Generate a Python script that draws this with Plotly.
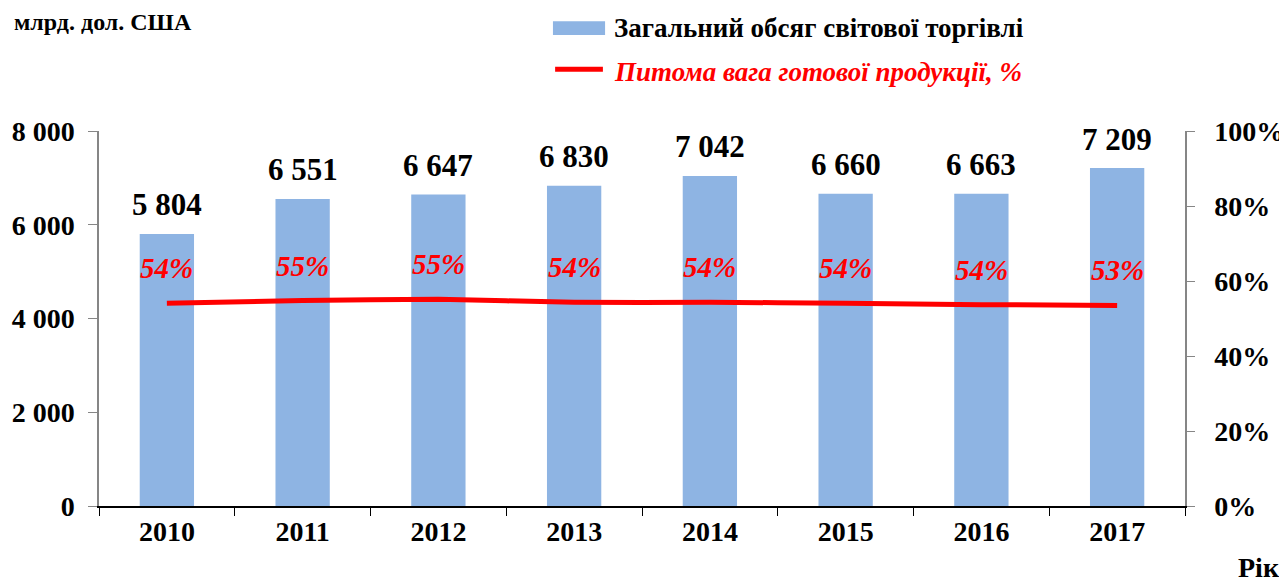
import plotly.graph_objects as go

years = ["2010", "2011", "2012", "2013", "2014", "2015", "2016", "2017"]
trade_total = [5804, 6551, 6647, 6830, 7042, 6660, 6663, 7209]
finished_share = [0.541, 0.548, 0.551, 0.543, 0.543, 0.541, 0.537, 0.535]
share_labels = ["54%", "55%", "55%", "54%", "54%", "54%", "54%", "53%"]

FONT = "'Liberation Serif', 'Times New Roman', serif"
BAR_COLOR = "#8EB4E3"
RED = "#FF0000"

fig = go.Figure()
fig.add_trace(go.Bar(
    x=years, y=trade_total, marker=dict(color=BAR_COLOR, line=dict(width=0)),
    width=0.4, name="Загальний обсяг світової торгівлі", showlegend=False,
))
fig.add_trace(go.Scatter(
    x=years, y=finished_share, yaxis="y2", mode="lines",
    line=dict(color=RED, width=5, shape="spline", smoothing=0.6),
    name="Питома вага готової продукції, %", showlegend=False,
))

annotations = []
for i, v in enumerate(trade_total):
    annotations.append(dict(
        x=i, y=v, xref="x", yref="y", text=f"{v:,}".replace(",", " "),
        showarrow=False, yanchor="middle", yshift=29,
        font=dict(family=FONT, size=31, color="black", weight="bold"),
    ))
for i, (v, lab) in enumerate(zip(finished_share, share_labels)):
    annotations.append(dict(
        x=i, y=v, xref="x", yref="y2", text=f"<i>{lab}</i>",
        showarrow=False, yanchor="middle", yshift=35,
        font=dict(family=FONT, size=29, color=RED, weight="bold"),
    ))

# unit label, legend texts, axis title
annotations += [
    dict(xref="paper", yref="paper", x=-0.080, y=1.29, xanchor="left", yanchor="middle",
         text="млрд. дол. США", showarrow=False,
         font=dict(family=FONT, size=24, color="black", weight="bold")),
    dict(xref="paper", yref="paper", x=0.4724, y=1.2747, xanchor="left", yanchor="middle",
         text="Загальний обсяг світової торгівлі", showarrow=False,
         font=dict(family=FONT, size=27, color="black", weight="bold")),
    dict(xref="paper", yref="paper", x=0.4724, y=1.158, xanchor="left", yanchor="middle",
         text="<i>Питома вага готової продукції, %</i>", showarrow=False,
         font=dict(family=FONT, size=27, color=RED, weight="bold")),
    dict(xref="paper", yref="paper", x=1.068, y=-0.165, xanchor="center", yanchor="middle",
         text="Рік", showarrow=False,
         font=dict(family=FONT, size=28, color="black", weight="bold")),
]

shapes = [
    dict(type="rect", xref="paper", yref="paper", x0=0.418, x1=0.466, y0=1.256, y1=1.293,
         fillcolor=BAR_COLOR, line=dict(width=0)),
    dict(type="line", xref="paper", yref="paper", x0=0.420, x1=0.464, y0=1.165, y1=1.165,
         line=dict(color=RED, width=5)),
]

fig.update_layout(
    width=1279, height=575,
    margin=dict(l=91, r=102, t=123, b=77, autoexpand=False),
    paper_bgcolor="white", plot_bgcolor="white",
    separators=". ",
    annotations=annotations, shapes=shapes,
    xaxis=dict(
        type="category", range=[-0.5, 7.5], showgrid=False, showline=True,
        linecolor="black", linewidth=1.5,
        ticks="outside", tickson="boundaries", ticklen=8, tickcolor="black",
        tickfont=dict(family=FONT, size=28, color="black", weight="bold"),
        automargin=False,
    ),
    yaxis=dict(
        range=[0, 8000], dtick=2000, tickformat=",", showgrid=False, zeroline=False,
        showline=True, linecolor="#868686", linewidth=1.5, ticks="outside", ticklen=9,
        tickcolor="#868686", ticklabelstandoff=8, automargin=False,
        tickfont=dict(family=FONT, size=28, color="black", weight="bold"),
    ),
    yaxis2=dict(
        range=[0, 1], dtick=0.2, tickformat=".0%", overlaying="y", side="right",
        showgrid=False, zeroline=False, showline=True, linecolor="#868686", linewidth=1.5,
        ticks="outside", ticklen=8, tickcolor="#868686", ticklabelstandoff=14,
        automargin=False,
        tickfont=dict(family=FONT, size=28, color="black", weight="bold"),
    ),
)

fig.write_html("out.html")
